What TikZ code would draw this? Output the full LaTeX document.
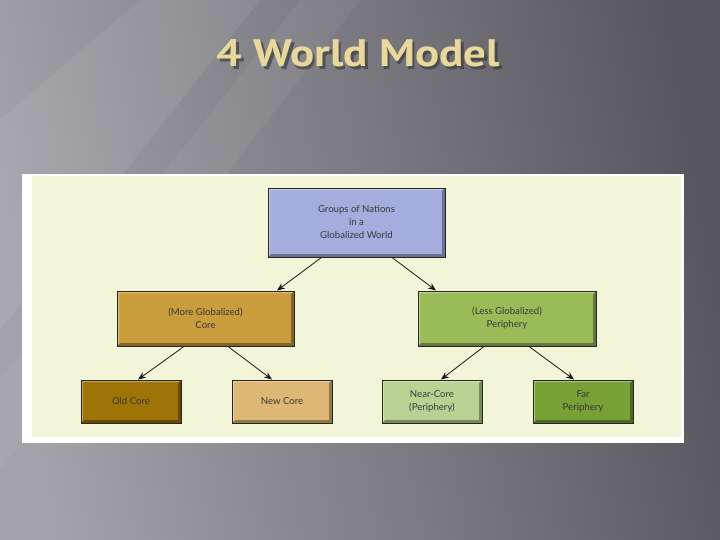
\documentclass[tikz,border=0pt]{standalone}
\usepackage{fontspec}
\usepackage{graphicx}
\setmainfont{Lato}
\newfontfamily\titlefont{PT Sans}
\usetikzlibrary{arrows.meta}
\definecolor{bgl}{HTML}{A3A2A8}
\definecolor{bgr}{HTML}{58575D}
\definecolor{panelc}{HTML}{F2F5D8}
\definecolor{titlec}{HTML}{E9D89C}
\definecolor{topc}{HTML}{A4ADDD}
\definecolor{corec}{HTML}{C99D3C}
\definecolor{peric}{HTML}{9BBB59}
\definecolor{oldc}{HTML}{9E7406}
\definecolor{newc}{HTML}{DDB874}
\definecolor{nearc}{HTML}{B9D293}
\definecolor{farc}{HTML}{77A035}
\newcommand{\titletext}{\resizebox{283pt}{27pt}{\titlefont\bfseries 4 World Model}}
\tikzset{
  bevel/.style={path picture={
    \fill[black,opacity=0.35] (path picture bounding box.south west) -- (path picture bounding box.south east) -- (path picture bounding box.north east) -- ([shift={(-3pt,-3pt)}]path picture bounding box.north east) -- ([shift={(-3pt,3pt)}]path picture bounding box.south east) -- ([shift={(3pt,3pt)}]path picture bounding box.south west) -- cycle;
    \fill[white,opacity=0.35] (path picture bounding box.north west) -- (path picture bounding box.north east) -- ([shift={(-2pt,-2pt)}]path picture bounding box.north east) -- ([shift={(2pt,-2pt)}]path picture bounding box.north west) -- ([shift={(2pt,2pt)}]path picture bounding box.south west) -- (path picture bounding box.south west) -- cycle;
  }},
  nbox/.style={draw=black!85, line width=0.9pt, inner sep=0pt, align=center,
    font=\fontsize{9.6}{13}\selectfont, text=black!78, bevel},
  bigbox/.style={nbox, minimum width=177pt, minimum height=55pt},
  smallbox/.style={nbox, minimum width=100pt, minimum height=43pt},
  arr/.style={-{Stealth[length=8pt,width=6.5pt]}, line width=0.8pt, black!90}
}
\begin{document}
\begin{tikzpicture}[x=1pt,y=-1pt]
\useasboundingbox (0,0) rectangle (720,540);
\shade[left color=bgl, right color=bgr, shading angle=100] (0,0) rectangle (720,540);
\fill[white,opacity=0.07] (0,120) -- (140,0) -- (260,0) -- (0,330) -- cycle;
\fill[white,opacity=0.05] (0,380) -- (300,0) -- (360,0) -- (0,470) -- cycle;
% title
\node[text=black!80,opacity=0.6,inner sep=0pt,anchor=base] (titleshadow) at (361,69.5) {\titletext};
\node[text=titlec,inner sep=0pt,anchor=base] (title) at (358.5,67) {\titletext};
% panel
\fill[white] (22,174) rectangle (684,443);
\fill[panelc] (32,176) rectangle (681,437);
% boxes
\node[nbox, fill=topc, minimum width=177pt, minimum height=69pt] (top) at (356.5,222.5) {Groups of Nations\\in a\\Globalized World};
\node[bigbox, fill=corec] (core) at (205.5,318.5) {(More Globalized)\\Core};
\node[bigbox, fill=peric, minimum width=178pt] (peri) at (507,318.5) {(Less Globalized)\\Periphery};
\node[smallbox, fill=oldc] (old) at (131,401.5) {Old Core};
\node[smallbox, fill=newc] (new) at (282,401.5) {New Core};
\node[smallbox, fill=nearc] (near) at (432,401.5) {Near-Core\\(Periphery)};
\node[smallbox, fill=farc] (far) at (583,401.5) {Far\\Periphery};
% arrows
\draw[arr] ([xshift=-35pt]top.south) -- ([xshift=71.5pt]core.north);
\draw[arr] ([xshift=35.5pt]top.south) -- ([xshift=-71pt]peri.north);
\draw[arr] ([xshift=-21.5pt]core.south) -- ([xshift=7pt]old.north);
\draw[arr] ([xshift=22.5pt]core.south) -- ([xshift=-10pt]new.north);
\draw[arr] ([xshift=-23pt]peri.south) -- ([xshift=9pt]near.north);
\draw[arr] ([xshift=22pt]peri.south) -- ([xshift=-9pt]far.north);
\end{tikzpicture}
\end{document}
